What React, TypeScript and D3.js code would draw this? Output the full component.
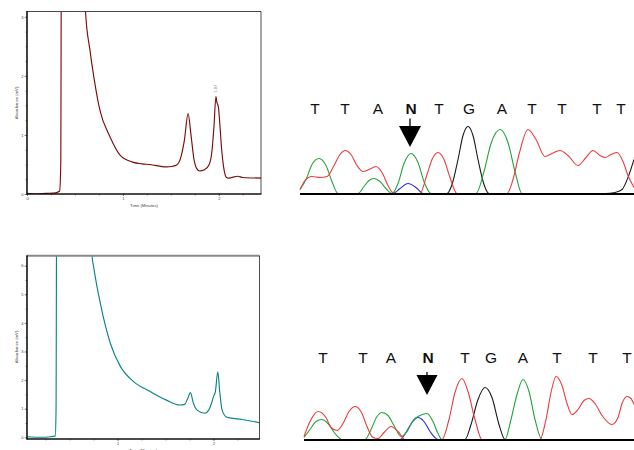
import React, { useEffect } from 'react'
import * as d3 from 'd3'

type Pt = [number, number]

// chromatograms, [time (min), absorbance (mV)]
const runA: Pt[] = [
    [0, 0.01], [0.1, 0.0], [0.2, 0.01], [0.3, 0.02], [0.34, 0.05], [0.352, 0.5], [0.36, 5], [0.6, 5],
    [0.61, 3.09], [0.656, 2.44], [0.7, 1.95], [0.76, 1.42], [0.865, 0.97], [0.97, 0.66], [1.1, 0.54],
    [1.2, 0.51], [1.28, 0.5], [1.45, 0.46], [1.52, 0.47], [1.56, 0.49], [1.6, 0.6], [1.64, 0.9],
    [1.68, 1.36], [1.71, 1.0], [1.74, 0.6], [1.77, 0.43], [1.8, 0.39], [1.85, 0.41], [1.9, 0.5],
    [1.93, 0.75], [1.95, 1.15], [1.97, 1.65], [1.98, 1.55], [1.995, 1.48], [2.01, 1.2], [2.03, 0.75],
    [2.05, 0.46], [2.08, 0.28], [2.1, 0.27], [2.2, 0.3], [2.25, 0.28], [2.44, 0.27],
]

const runB: Pt[] = [
    [0.055, 0.02], [0.2, 0.0], [0.3, 0.02], [0.35, 0.05], [0.358, 1], [0.365, 9], [0.72, 9],
    [0.733, 6.35], [0.75, 5.96], [0.82, 4.68], [0.924, 3.29], [1.03, 2.47], [1.17, 1.94], [1.34, 1.6],
    [1.51, 1.3], [1.65, 1.13], [1.7, 1.15], [1.73, 1.35], [1.76, 1.56], [1.79, 1.2], [1.83, 0.95],
    [1.91, 0.84], [1.95, 0.95], [1.98, 1.2], [2.0, 1.42], [2.02, 1.6], [2.045, 2.29], [2.065, 1.6],
    [2.09, 0.95], [2.14, 0.7], [2.3, 0.62], [2.48, 0.51],
]

const timeTicksA = [0, 1, 2]
const absTicksA = [0, 1, 2, 3]
const timeTicksB = [1, 2]
const absTicksB = [0, 1, 2, 3, 4, 5, 6]
const peakLabel = '1.97'

// electropherograms, [scan, signal]
const topGreen: Pt[] = [
    [0, 4], [6, 14], [12, 29], [19, 35], [26, 28], [32, 12], [38, 0], [58, 0], [64, 7], [69, 13], [74, 15],
    [80, 12], [86, 5], [92, 0], [98, 10], [104, 30], [111, 40], [118, 31], [124, 12], [131, 0], [176, 0],
    [184, 22], [191, 50], [200, 64], [208, 51], [215, 22], [222, 0], [334, 0],
]
const topRed: Pt[] = [
    [0, 4], [5, 13], [12, 17], [20, 16], [27, 17], [34, 28], [40, 39], [45, 43], [51, 39], [57, 28],
    [63, 22], [69, 24], [76, 27], [82, 21], [88, 8], [94, 0], [120, 0], [127, 19], [132, 34], [138, 41],
    [144, 34], [150, 16], [157, 0], [207, 0], [213, 14], [219, 39], [228, 64], [236, 54], [245, 37],
    [252, 40], [260, 43], [268, 38], [278, 28], [286, 36], [293, 43], [300, 38], [305, 36], [311, 39],
    [317, 41], [323, 32], [328, 18], [334, 6],
]
const topBlack: Pt[] = [
    [0, 0], [147, 0], [152, 9], [158, 34], [163, 58], [168, 67], [173, 58], [178, 34], [184, 9], [189, 0],
    [305, 0], [315, 1], [322, 4], [328, 16], [334, 34],
]
const topBlue: Pt[] = [[0, 0], [93, 0], [100, 5], [108, 10], [116, 6], [123, 0], [334, 0]]

const bottomRed: Pt[] = [
    [0, 3], [6, 18], [14, 28], [22, 22], [27, 12], [33, 9], [39, 16], [45, 28], [51, 33], [57, 28], [63, 13],
    [69, 2], [74, 1], [80, 7], [87, 13], [94, 8], [101, 0], [138, 0], [145, 20], [151, 47], [158, 61],
    [164, 48], [171, 20], [178, 0], [236, 0], [242, 20], [247, 47], [252, 63], [258, 54], [263, 36],
    [268, 25], [274, 30], [280, 39], [285, 41], [291, 36], [298, 24], [308, 15], [314, 22], [318, 36],
    [323, 43], [327, 41], [330, 35],
]
const bottomGreen: Pt[] = [
    [0, 2], [6, 10], [12, 18], [18, 20], [24, 16], [31, 6], [38, 0], [61, 0], [67, 10], [73, 23], [78, 27],
    [84, 24], [90, 14], [97, 3], [103, 8], [109, 19], [116, 24], [123, 26], [129, 18], [134, 6], [138, 0],
    [201, 0], [207, 20], [213, 45], [219, 60], [225, 48], [231, 20], [238, 0], [330, 0],
]
const bottomBlue: Pt[] = [[0, 0], [96, 0], [102, 7], [108, 17], [114, 22], [120, 18], [126, 8], [134, 0], [330, 0]]
const bottomBlack: Pt[] = [
    [0, 0], [161, 0], [167, 15], [174, 40], [181, 52], [188, 42], [195, 15], [201, 0], [330, 0],
]

const topBases = ['T', 'T', 'A', 'N', 'T', 'G', 'A', 'T', 'T', 'T', 'T']
const topBaseScan = [15, 45, 78, 111, 139, 169, 202, 232, 262, 297, 321]
const bottomBases = ['T', 'T', 'A', 'N', 'T', 'G', 'A', 'T', 'T', 'T']
const bottomBaseScan = [19, 59, 87, 124, 161, 187, 219, 253, 289, 323]

const dyeColors = { green: '#22a43a', red: '#ee3a3a', black: '#1a1a1a', blue: '#2a2ae6' }
const tiny = 'Liberation Sans, Arial, sans-serif'

function chromatogram(svg: any, o: any) {
    let x = d3.scaleLinear().domain(o.xDomain).range([o.left, o.right])
    let y = d3.scaleLinear().domain(o.yDomain).range([o.bottom, o.top])

    let g = svg.append('g')

    g.append('clipPath').attr('id', o.id)
        .append('rect')
        .attr('x', o.left).attr('y', o.top)
        .attr('width', o.right - o.left).attr('height', o.bottom - o.top)

    // minor ticks
    g.append('g')
        .attr('transform', 'translate(' + o.left + ',0)')
        .call(d3.axisLeft(y).tickValues(d3.range(o.yDomain[0] < 0 ? 0 : o.yDomain[0], o.yDomain[1], o.yMinor)).tickSize(1.5).tickFormat(() => ''))
    g.append('g')
        .attr('transform', 'translate(0,' + o.bottom + ')')
        .call(d3.axisBottom(x).tickValues(d3.range(0, o.xDomain[1], 0.25).filter(t => t >= o.xDomain[0])).tickSize(1.5).tickFormat(() => ''))

    let ya = g.append('g')
        .attr('transform', 'translate(' + o.left + ',0)')
        .call(d3.axisLeft(y).tickValues(o.yTicks).tickSize(2.5).tickPadding(1).tickFormat(d3.format('d')))
    let xa = g.append('g')
        .attr('transform', 'translate(0,' + o.bottom + ')')
        .call(d3.axisBottom(x).tickValues(o.xTicks).tickSize(2).tickPadding(1.5).tickFormat(d3.format('d')))

    g.selectAll('.domain').remove()
    g.selectAll('.tick line').attr('stroke', '#333').attr('stroke-width', 0.5)
    ;[ya, xa].forEach(a => a.attr('font-size', 4).attr('font-family', tiny).selectAll('text').attr('fill', '#444'))

    let line = d3.line<Pt>()
        .x(d => x(d[0]))
        .y(d => y(d[1]))
        .curve(d3.curveMonotoneX)

    g.append('path')
        .datum(o.data)
        .attr('d', line)
        .attr('fill', 'none')
        .attr('stroke', o.color)
        .attr('stroke-width', 1.15)
        .attr('clip-path', 'url(#' + o.id + ')')

    // frame
    g.append('line').attr('x1', o.left).attr('x2', o.right).attr('y1', o.top).attr('y2', o.top)
        .attr('stroke', o.topStroke).attr('stroke-width', o.topWidth)
    g.append('line').attr('x1', o.right).attr('x2', o.right).attr('y1', o.top).attr('y2', o.bottom)
        .attr('stroke', '#222').attr('stroke-width', 0.8)
    g.append('line').attr('x1', o.left).attr('x2', o.left).attr('y1', o.top - 0.5).attr('y2', o.bottom + 0.8)
        .attr('stroke', '#111').attr('stroke-width', 1.6)
    g.append('line').attr('x1', o.left).attr('x2', o.right + 0.4).attr('y1', o.bottom).attr('y2', o.bottom)
        .attr('stroke', '#111').attr('stroke-width', 1.6)

    g.append('text')
        .attr('x', (o.left + o.right) / 2 + 0)
        .attr('y', o.xTitleY)
        .attr('text-anchor', 'middle')
        .attr('font-size', 4.2).attr('font-family', tiny).attr('fill', '#444')
        .text('Time (Minutes)')
    g.append('text')
        .attr('transform', 'translate(' + 17.5 + ',' + o.yTitleY + ') rotate(-90)')
        .attr('text-anchor', 'middle')
        .attr('font-size', 4.2).attr('font-family', tiny).attr('fill', '#444')
        .text('Absorbance (mV)')

    return { x, y, g }
}

function electropherogram(svg: any, o: any) {
    let x = d3.scaleLinear().domain([0, o.scans]).range([o.left, 634])
    let y = d3.scaleLinear().domain([0, 70]).range([o.base, o.base - 70])

    let line = d3.line<Pt>()
        .x(d => x(d[0]))
        .y(d => y(d[1]))
        .curve(d3.curveMonotoneX)

    let g = svg.append('g')
    o.traces.forEach((t: any) => {
        g.append('path')
            .datum(t.data)
            .attr('d', line)
            .attr('fill', 'none')
            .attr('stroke', t.color)
            .attr('stroke-width', 1.1)
    })

    g.append('line')
        .attr('x1', o.left).attr('x2', 634)
        .attr('y1', o.base + 0.5).attr('y2', o.base + 0.5)
        .attr('stroke', '#000').attr('stroke-width', 2.2)

    g.selectAll('text.base')
        .data(o.bases)
        .enter()
        .append('text')
        .attr('class', 'base')
        .attr('x', (d: string, i: number) => x(o.scan[i]))
        .attr('y', o.letterY)
        .attr('text-anchor', 'middle')
        .attr('font-family', tiny)
        .attr('font-size', 15.5)
        .attr('font-weight', (d: string) => d === 'N' ? 'bold' : 'normal')
        .attr('fill', '#111')
        .text((d: string) => d)

    let ax = x(o.scan[o.bases.indexOf('N')]) - 1
    g.append('line')
        .attr('x1', ax).attr('x2', ax)
        .attr('y1', o.stemTop).attr('y2', o.arrowTop + 1)
        .attr('stroke', '#000').attr('stroke-width', 1.3)
    g.append('path')
        .attr('d', 'M' + (ax - o.arrowHalf) + ',' + o.arrowTop + 'L' + (ax + o.arrowHalf) + ',' + o.arrowTop + 'L' + ax + ',' + o.arrowTip + 'Z')
        .attr('fill', '#000')
}

export default function App() {

    function draw() {
        d3.select('#chart').selectAll('*').remove()

        let svg = d3.select('#chart')
            .append('svg')
            .attr('width', 634)
            .attr('height', 450)
            .style('position', 'absolute')
            .style('left', 0)
            .style('top', 0)
            .style('background', '#fff')

        let top = chromatogram(svg, {
            id: 'clipA', data: runA, color: '#7d0b0b',
            xDomain: [0, 2.44], yDomain: [0, 3.09],
            left: 27, right: 261, top: 11.5, bottom: 194,
            xTicks: timeTicksA, yTicks: absTicksA, yMinor: 0.25,
            topStroke: '#333', topWidth: 0.9, xTitleY: 207, yTitleY: 103,
        })
        top.g.append('text')
            .attr('transform', 'translate(' + (top.x(1.97) + 1.2) + ',' + (top.y(1.65) - 4) + ') rotate(-90)')
            .attr('text-anchor', 'start')
            .attr('font-size', 4).attr('font-family', tiny).attr('fill', '#666')
            .text(peakLabel)

        chromatogram(svg, {
            id: 'clipB', data: runB, color: '#0b8585',
            xDomain: [0.055, 2.48], yDomain: [-0.06, 6.35],
            left: 27, right: 259.5, top: 255.7, bottom: 439,
            xTicks: timeTicksB, yTicks: absTicksB, yMinor: 0.5,
            topStroke: '#888', topWidth: 2, xTitleY: 451.5, yTitleY: 347,
        })

        electropherogram(svg, {
            left: 300, scans: 334, base: 193.5,
            traces: [
                { data: topBlue, color: dyeColors.blue },
                { data: topBlack, color: dyeColors.black },
                { data: topGreen, color: dyeColors.green },
                { data: topRed, color: dyeColors.red },
            ],
            bases: topBases, scan: topBaseScan, letterY: 113.5,
            stemTop: 118.5, arrowTop: 126, arrowTip: 147, arrowHalf: 11,
        })

        electropherogram(svg, {
            left: 304, scans: 330, base: 439.5,
            traces: [
                { data: bottomBlue, color: dyeColors.blue },
                { data: bottomBlack, color: dyeColors.black },
                { data: bottomGreen, color: dyeColors.green },
                { data: bottomRed, color: dyeColors.red },
            ],
            bases: bottomBases, scan: bottomBaseScan, letterY: 363,
            stemTop: 372, arrowTop: 375, arrowTip: 395, arrowHalf: 10.5,
        })
    }

    useEffect(() => {
        draw()
    }, [])

    return (
        <div id='chart'></div>
    )
}
